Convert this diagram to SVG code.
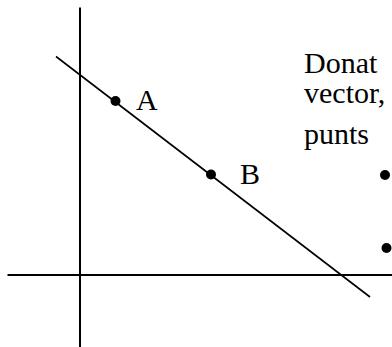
<svg xmlns="http://www.w3.org/2000/svg" width="392" height="347" viewBox="0 0 392 347">
<style>
.ax{stroke:#000;stroke-width:2;fill:none}
.ln{stroke:#000;stroke-width:1.6;fill:none}
.dot{fill:#000}
text{font-family:'Liberation Serif','DejaVu Serif',serif;font-size:30px;fill:#000}
</style>
<rect width="392" height="347" fill="#fff"/>
<g id="axes">
<line class="ax" x1="80" y1="7.5" x2="80" y2="347"/>
<line class="ax" x1="7.5" y1="275" x2="392" y2="275"/>
</g>
<g id="connectors">
<line class="ln" x1="56" y1="56.5" x2="370" y2="297"/>
</g>
<g id="pointA">
<circle class="dot" cx="115.5" cy="101" r="5"/>
<text x="136" y="109.5" font-family="Liberation Serif, serif">A</text>
</g>
<g id="pointB">
<circle class="dot" cx="211" cy="174.5" r="5"/>
<text x="240" y="183.5" font-family="Liberation Serif, serif">B</text>
</g>
<g id="text">
<text x="304" y="73" font-family="Liberation Serif, serif">Donat</text>
<text x="304" y="102.5" font-family="Liberation Serif, serif">vector,</text>
<text x="304" y="144" font-family="Liberation Serif, serif">punts</text>
</g>
<g id="points">
<circle class="dot" cx="385" cy="175" r="5"/>
<circle class="dot" cx="386.5" cy="248" r="5"/>
</g>
</svg>
